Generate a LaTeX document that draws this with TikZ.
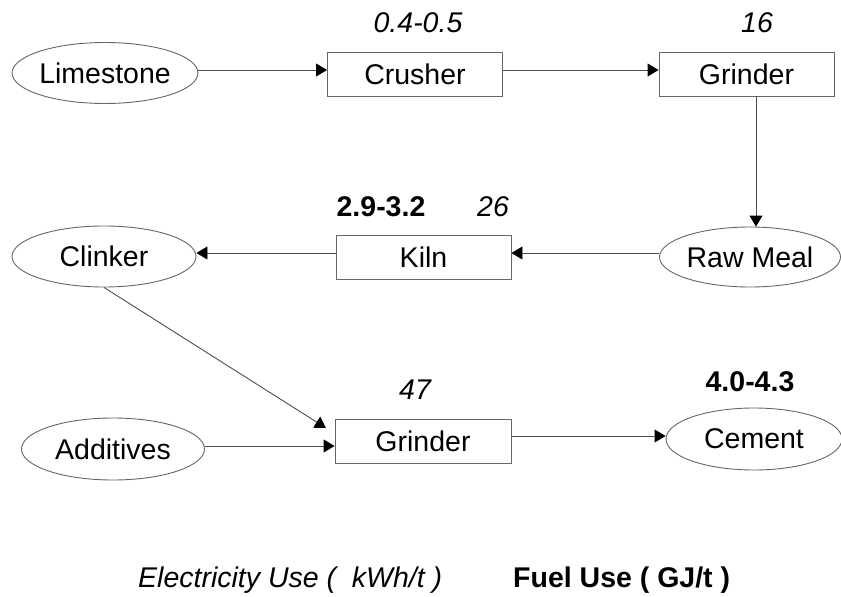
\documentclass[tikz,border=0pt]{standalone}
\usepackage{fontspec}
\setmainfont{Liberation Sans}
\usetikzlibrary{arrows.meta,shapes.geometric}
\tikzset{
  base/.style={draw=black!60, line width=0.9pt, inner sep=0pt, font=\fontsize{28.5}{34}\selectfont},
  procbox/.style={base, rectangle, minimum width=175pt, minimum height=44pt},
  matl/.style={base, ellipse, minimum width=184pt, minimum height=61pt},
  arr/.style={draw=black!70, line width=0.9pt, -{Triangle[length=11pt,width=13pt,color=black]}},
  elec/.style={font=\fontsize{28.5}{34}\selectfont\itshape, inner sep=0pt},
  fuel/.style={font=\fontsize{28.5}{34}\selectfont\bfseries, inner sep=0pt}
}
\begin{document}
\begin{tikzpicture}[x=1pt,y=-1pt]
\useasboundingbox (0,0) rectangle (841,597);
% nodes
\node[matl] (lime) at (105,73) {Limestone};
\node[procbox] (crusher) at (415,74) {Crusher};
\node[procbox] (grind1) at (746.5,74) {Grinder};
\node[matl, minimum width=181pt, minimum height=60pt] (raw) at (750,257) {Raw Meal};
\node[procbox] (kiln) at (423.5,257) {Kiln};
\node[matl] (clinker) at (104,256.5) {Clinker};
\node[matl, minimum width=183pt, minimum height=62pt] (additives) at (113,449) {Additives};
\node[procbox, minimum width=176pt] (grind2) at (423,441) {Grinder};
\node[matl, minimum width=176pt, minimum height=62pt] (cement) at (754,439) {Cement};
% labels
\node[elec] (l1) at (418,23) {0.4-0.5};
\node[elec] (l2) at (757,23) {16};
\node[fuel] (l3) at (381,207) {2.9-3.2};
\node[elec] (l4) at (493,207) {26};
\node[elec] (l5) at (415,390) {47};
\node[fuel] (l6) at (750,382) {4.0-4.3};
\node[elec, anchor=west] (leg1) at (138,580) {Electricity Use (\ \ kWh/t )};
\node[fuel, anchor=west] (leg2) at (513,580) {Fuel Use ( GJ/t )};
% connectors
\coordinate (c2) at (326,428);
\draw[arr] ([yshift=3pt]lime.east) -- ([yshift=4pt]crusher.west);
\draw[arr] ([yshift=4pt]crusher.east) -- ([yshift=4pt]grind1.west);
\draw[arr] ([xshift=9.5pt]grind1.south) -- ([xshift=6pt]raw.north);
\draw[arr] ([yshift=4pt]raw.west) -- ([yshift=4pt]kiln.east);
\draw[arr] ([yshift=4pt]kiln.west) -- ([yshift=3.5pt]clinker.east);
\draw[arr] (clinker.south) -- (c2);
\draw[arr] ([yshift=3pt]additives.east) -- ([yshift=-5pt]grind2.west);
\draw[arr] ([yshift=5pt]grind2.east) -- ([yshift=3pt]cement.west);
\end{tikzpicture}
\end{document}
